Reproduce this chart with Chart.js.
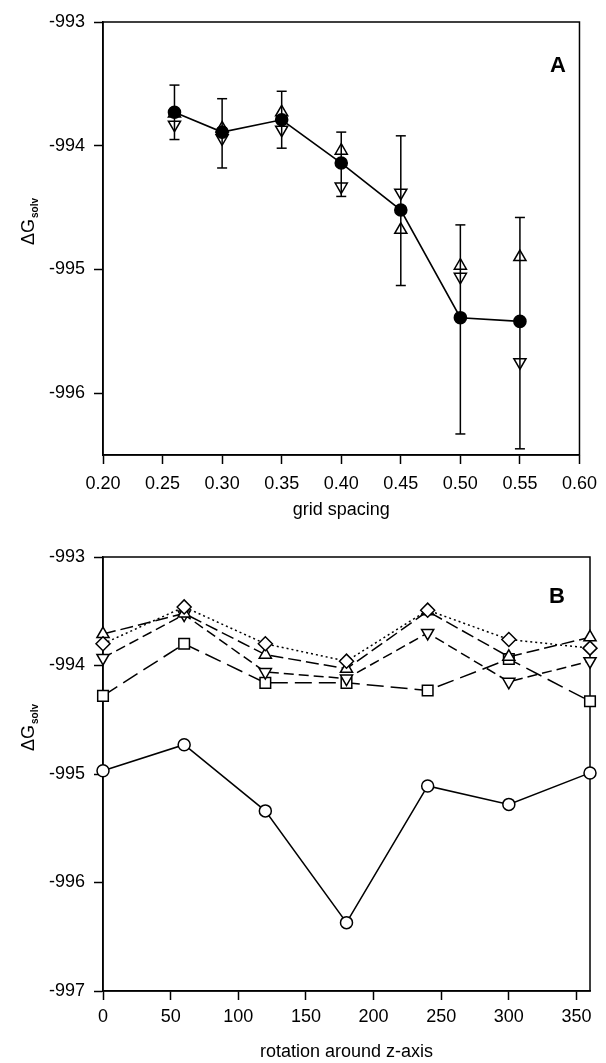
<!DOCTYPE html>
<html lang="en">
<head>
<meta charset="UTF-8">
<title>ΔGsolv vs grid spacing and rotation</title>
<script src="https://cdn.jsdelivr.net/npm/chart.js"></script>
<style>
  html, body { margin: 0; padding: 0; background: #fff; }
  #wrap { position: relative; width: 606px; height: 1063px; }
  #panelA { position: absolute; left: 0; top: 0; }
  #panelB { position: absolute; left: 0; top: 530px; }
</style>
</head>
<body>
<div id="wrap">
  <canvas id="panelA" width="606" height="530"></canvas>
  <canvas id="panelB" width="606" height="533"></canvas>
</div>
<script>
// ---- panel A: grid spacing ----
const gridSpacing = [0.26, 0.30, 0.35, 0.40, 0.45, 0.50, 0.55];
const meanA    = [-993.73, -993.89, -993.79, -994.14, -994.52, -995.39, -995.42];
const errTopA  = [-993.51, -993.62, -993.56, -993.89, -993.92, -994.64, -994.58];
const errBotA  = [-993.95, -994.18, -994.02, -994.41, -995.13, -996.33, -996.45];
const upA      = [-993.74, -993.86, -993.73, -994.04, -994.68, -994.97, -994.90];
const downA    = [-993.83, -993.94, -993.87, -994.33, -994.38, -995.06, -995.75];
const xTicksA  = [0.20, 0.25, 0.30, 0.35, 0.40, 0.45, 0.50, 0.55, 0.60];
const yTicksA  = [-993, -994, -995, -996];

// ---- panel B: rotation around z-axis ----
const rotation  = [0, 60, 120, 180, 240, 300, 360];
const circleB   = [-994.97, -994.73, -995.34, -996.37, -995.11, -995.28, -994.99];
const squareB   = [-994.28, -993.80, -994.16, -994.16, -994.23, -993.94, -994.33];
const downB     = [-993.93, -993.53, -994.06, -994.12, -993.70, -994.15, -993.96];
const diamondB  = [-993.80, -993.46, -993.80, -993.96, -993.49, -993.76, -993.84];
const upB       = [-993.71, -993.52, -993.90, -994.03, -993.50, -993.92, -993.74];
const xTicksB   = [0, 50, 100, 150, 200, 250, 300, 350];
const yTicksB   = [-993, -994, -995, -996, -997];

const FONT = "'Liberation Sans', Arial, Helvetica, sans-serif";
Chart.defaults.font.family = FONT;
Chart.defaults.font.size = 18;
Chart.defaults.color = '#000';

const pts = (xs, ys) => xs.map((x, i) => ({ x: x, y: ys[i] }));

// error bars: low, high, gap for every x
const errBars = [];
gridSpacing.forEach((x, i) => {
  errBars.push({ x: x, y: errBotA[i] }, { x: x, y: errTopA[i] }, { x: x, y: null });
});

// box frame, panel letter and the y title with subscript
const framePlugin = {
  id: 'frame',
  beforeDatasetsDraw(chart, args, o) {
    const { ctx, chartArea: a } = chart;
    ctx.save();
    ctx.strokeStyle = '#000';
    ctx.lineWidth = 1.5;
    ctx.strokeRect(a.left, a.top, a.right - a.left, a.bottom - a.top);
    ctx.fillStyle = '#000';
    ctx.font = 'bold 22px ' + FONT;
    ctx.textAlign = 'center';
    ctx.textBaseline = 'middle';
    ctx.fillText(o.letter, o.letterX, o.letterY);

    ctx.translate(o.titleX, o.titleY);
    ctx.rotate(-Math.PI / 2);
    ctx.textAlign = 'left';
    ctx.textBaseline = 'alphabetic';
    ctx.font = '18px ' + FONT;
    const w1 = ctx.measureText('ΔG').width;
    ctx.font = 'bold 10px ' + FONT;
    const w2 = ctx.measureText('solv').width;
    const x0 = -(w1 + w2) / 2;
    ctx.font = '18px ' + FONT;
    ctx.fillText('ΔG', x0, 6);
    ctx.font = 'bold 10px ' + FONT;
    ctx.fillText('solv', x0 + w1 + 1, 10);
    ctx.restore();
  }
};

function axis(min, max, ticks, fmt, extra) {
  return Object.assign({
    type: 'linear',
    min: min,
    max: max,
    afterBuildTicks: s => { s.ticks = ticks.map(v => ({ value: v })); },
    border: { display: true, color: '#000', width: 1.5 },
    grid: { drawOnChartArea: false, drawTicks: true, tickLength: 9, tickColor: '#000', tickWidth: 1.5 },
    ticks: { autoSkip: false, maxRotation: 0, padding: 9, callback: fmt }
  }, extra);
}

new Chart(document.getElementById('panelA'), {
  type: 'scatter',
  data: {
    datasets: [
      { data: pts(gridSpacing, meanA), showLine: true, borderColor: '#000', borderWidth: 1.6,
        pointStyle: 'circle', pointRadius: 6, pointBackgroundColor: '#000', pointBorderColor: '#000', clip: false },
      { data: pts(gridSpacing, upA), showLine: false, pointStyle: 'triangle', pointRadius: 7,
        pointBorderColor: '#000', pointBackgroundColor: 'rgba(0,0,0,0)', pointBorderWidth: 1.5, clip: false },
      { data: pts(gridSpacing, downA), showLine: false, pointStyle: 'triangle', rotation: 180, pointRadius: 7,
        pointBorderColor: '#000', pointBackgroundColor: 'rgba(0,0,0,0)', pointBorderWidth: 1.5, clip: false },
      { data: errBars, showLine: true, spanGaps: false, borderColor: '#000', borderWidth: 1.5,
        pointStyle: 'line', pointRadius: 5, pointBorderColor: '#000', pointBorderWidth: 1.5, clip: false }
    ]
  },
  options: {
    responsive: false,
    animation: false,
    events: [],
    layout: { padding: { left: 0, right: 18, top: 22, bottom: 0 } },
    plugins: {
      legend: { display: false },
      tooltip: { enabled: false },
      frame: { letter: 'A', letterX: 558, letterY: 66, titleX: 28, titleY: 222 }
    },
    scales: {
      x: axis(0.2, 0.6, xTicksA, v => v.toFixed(2), {
        afterFit: s => { s.height = 75; },
        title: { display: true, text: 'grid spacing', padding: { top: 0, bottom: 9 } }
      }),
      y: axis(-996.5, -993, yTicksA, v => String(v), {
        afterFit: s => { s.width = 103; }
      })
    }
  },
  plugins: [framePlugin]
});

const openMarker = (data, style, extra) => Object.assign({
  data: data, showLine: true, borderColor: '#000', borderWidth: 1.5,
  pointStyle: style, pointRadius: 7, pointBorderColor: '#000', pointBackgroundColor: '#fff',
  pointBorderWidth: 1.5, clip: false
}, extra);

new Chart(document.getElementById('panelB'), {
  type: 'scatter',
  data: {
    datasets: [
      openMarker(pts(rotation, diamondB), 'rectRot', { borderDash: [2, 3], pointRadius: 7 }),
      openMarker(pts(rotation, upB), 'triangle', { borderDash: [13, 5] }),
      openMarker(pts(rotation, downB), 'triangle', { borderDash: [10, 5], rotation: 180 }),
      openMarker(pts(rotation, squareB), 'rect', { borderDash: [17, 7], pointRadius: 7.5 }),
      openMarker(pts(rotation, circleB), 'circle', { pointRadius: 6 })
    ]
  },
  options: {
    responsive: false,
    animation: false,
    events: [],
    layout: { padding: { left: 0, right: 16, top: 27, bottom: 0 } },
    plugins: {
      legend: { display: false },
      tooltip: { enabled: false },
      frame: { letter: 'B', letterX: 557, letterY: 67, titleX: 28, titleY: 198 }
    },
    scales: {
      x: axis(0, 360, xTicksB, v => String(v), {
        afterFit: s => { s.height = 72; },
        ticks: { autoSkip: false, maxRotation: 0, padding: 6, callback: v => String(v) },
        title: { display: true, text: 'rotation around z-axis', padding: { top: 0, bottom: 0 } }
      }),
      y: axis(-997, -993, yTicksB, v => String(v), {
        afterFit: s => { s.width = 103; }
      })
    }
  },
  plugins: [framePlugin]
});
</script>
</body>
</html>
